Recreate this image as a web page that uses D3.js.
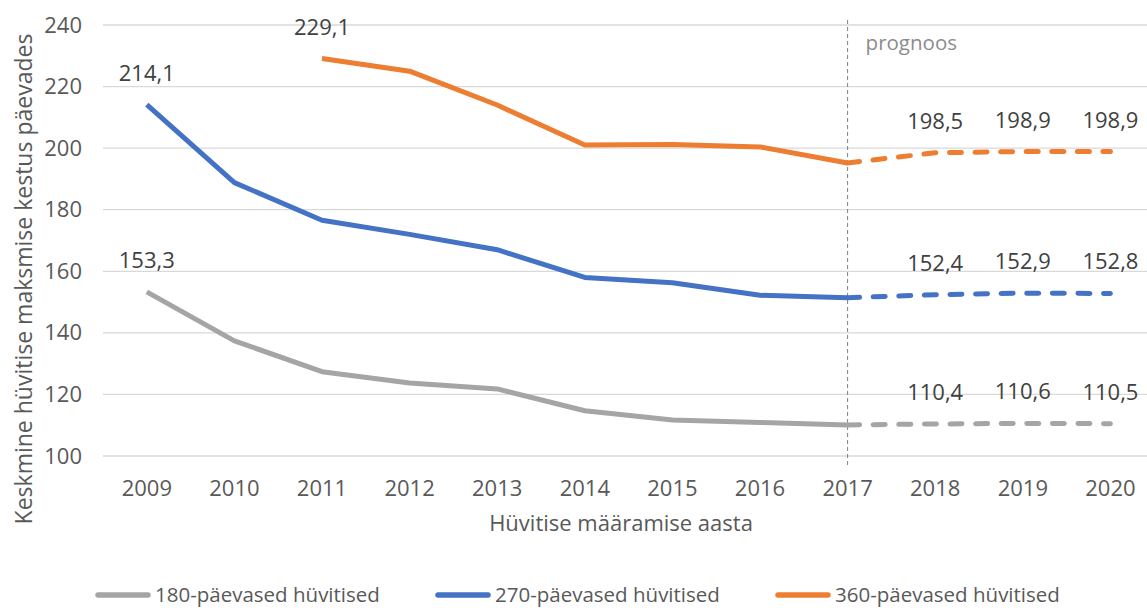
<!DOCTYPE html>
<html>
<head>
<meta charset="utf-8">
<script src="https://cdn.jsdelivr.net/npm/d3@7.9.0/dist/d3.min.js"></script>
<style>
  body { margin: 0; background: #fff; }
  svg text { font-family: "Open Sans", "Noto Sans", sans-serif; }
</style>
</head>
<body>
<div id="chart"></div>
<script>
// years on the x axis; the forecast starts after 2017
const years = ["2009", "2010", "2011", "2012", "2013", "2014", "2015", "2016", "2017", "2018", "2019", "2020"];
const forecastFrom = "2017";

const yTicks = [100, 120, 140, 160, 180, 200, 220, 240];

const seriesNames = ["180-päevased hüvitised", "270-päevased hüvitised", "360-päevased hüvitised"];

const days180 = [153.3, 137.4, 127.4, 123.7, 121.8, 114.7, 111.7, 110.9, 110.1, 110.4, 110.6, 110.5];
const days270 = [214.1, 188.8, 176.6, 172.0, 167.0, 158.0, 156.3, 152.2, 151.4, 152.4, 152.9, 152.8];
const days360 = [null, null, 229.1, 225.0, 214.0, 201.0, 201.2, 200.4, 195.2, 198.5, 198.9, 198.9];

// which points get a value label
const labelled180 = ["2009", "2018", "2019", "2020"];
const labelled270 = ["2009", "2018", "2019", "2020"];
const labelled360 = ["2011", "2018", "2019", "2020"];

const colors = ["#a5a5a5", "#4472c4", "#ed7d31"];

const series = [
  { name: seriesNames[0], values: days180, labels: labelled180, color: colors[0] },
  { name: seriesNames[1], values: days270, labels: labelled270, color: colors[1] },
  { name: seriesNames[2], values: days360, labels: labelled360, color: colors[2] }
];

const W = 1147, H = 608;
const svg = d3.select("#chart").append("svg")
  .attr("width", W)
  .attr("height", H);

// scales
const x = d3.scaleBand()
  .domain(years)
  .range([103, 103 + 12 * 87.6]);
const cx = d => x(d) + x.bandwidth() / 2;

const y = d3.scaleLinear()
  .domain([100, 240])
  .range([456, 25]);

// gridlines
svg.append("g")
  .selectAll("line")
  .data(yTicks)
  .join("line")
    .attr("x1", 103)
    .attr("x2", W)
    .attr("y1", d => y(d))
    .attr("y2", d => y(d))
    .attr("stroke", "#d9d9d9")
    .attr("stroke-width", 1.3);

// y axis labels
const yAxis = svg.append("g")
  .attr("transform", "translate(103,0)")
  .call(d3.axisLeft(y).tickValues(yTicks).tickSize(0).tickPadding(21));
yAxis.select(".domain").remove();
yAxis.selectAll("text")
  .attr("fill", "#595959")
  .style("font-size", "22px");

// x axis labels
const xAxis = svg.append("g")
  .attr("transform", "translate(0,474)")
  .call(d3.axisBottom(x).tickSize(0).tickPadding(6));
xAxis.select(".domain").remove();
xAxis.selectAll("text")
  .attr("fill", "#595959")
  .style("font-size", "22px");

// forecast marker
svg.append("line")
  .attr("x1", cx(forecastFrom))
  .attr("x2", cx(forecastFrom))
  .attr("y1", 20)
  .attr("y2", 466)
  .attr("stroke", "#7f7f7f")
  .attr("stroke-width", 1)
  .attr("stroke-dasharray", "4,3");

svg.append("text")
  .attr("x", cx(forecastFrom) + 18)
  .attr("y", 50)
  .attr("fill", "#8c8c8c")
  .style("font-size", "20.5px")
  .text("prognoos");

// lines
const line = d3.line()
  .defined(d => d.v != null)
  .x(d => cx(d.year))
  .y(d => y(d.v));

const splitAt = years.indexOf(forecastFrom);

series.forEach(s => {
  const pts = years.map((year, i) => ({ year, v: s.values[i] }));
  const actual = pts.slice(0, splitAt + 1);
  const forecast = pts.slice(splitAt);

  svg.append("path")
    .datum(actual)
    .attr("fill", "none")
    .attr("stroke", s.color)
    .attr("stroke-width", 5)
    .attr("stroke-linejoin", "round")
    .attr("d", line);

  svg.append("path")
    .datum(forecast)
    .attr("fill", "none")
    .attr("stroke", s.color)
    .attr("stroke-width", 5)
    .attr("stroke-linecap", "round")
    .attr("stroke-dasharray", "12,13.6")
    .attr("d", line);

  svg.append("g")
    .selectAll("text")
    .data(pts.filter(p => s.labels.includes(p.year)))
    .join("text")
      .attr("x", d => cx(d.year))
      .attr("y", d => y(d.v) - 24)
      .attr("text-anchor", "middle")
      .attr("fill", "#404040")
      .style("font-size", "22px")
      .text(d => d3.format(".1f")(d.v).replace(".", ","));
});

// axis titles
svg.append("text")
  .attr("transform", "rotate(-90)")
  .attr("x", -279)
  .attr("y", 32)
  .attr("text-anchor", "middle")
  .attr("fill", "#595959")
  .style("font-size", "23px")
  .text("Keskmine hüvitise maksmise kestus päevades");

svg.append("text")
  .attr("x", 621)
  .attr("y", 531)
  .attr("text-anchor", "middle")
  .attr("fill", "#595959")
  .style("font-size", "22px")
  .text("Hüvitise määramise aasta");

// legend
const legendX = [95, 435, 775];
const legend = svg.append("g")
  .selectAll("g")
  .data(series)
  .join("g")
    .attr("transform", (d, i) => `translate(${legendX[i]},595)`);

legend.append("line")
  .attr("x1", 3)
  .attr("x2", 53)
  .attr("stroke", d => d.color)
  .attr("stroke-width", 5.5)
  .attr("stroke-linecap", "round");

legend.append("text")
  .attr("x", 60)
  .attr("y", 6.5)
  .attr("fill", "#595959")
  .style("font-size", "20.5px")
  .text(d => d.name);
</script>
</body>
</html>
